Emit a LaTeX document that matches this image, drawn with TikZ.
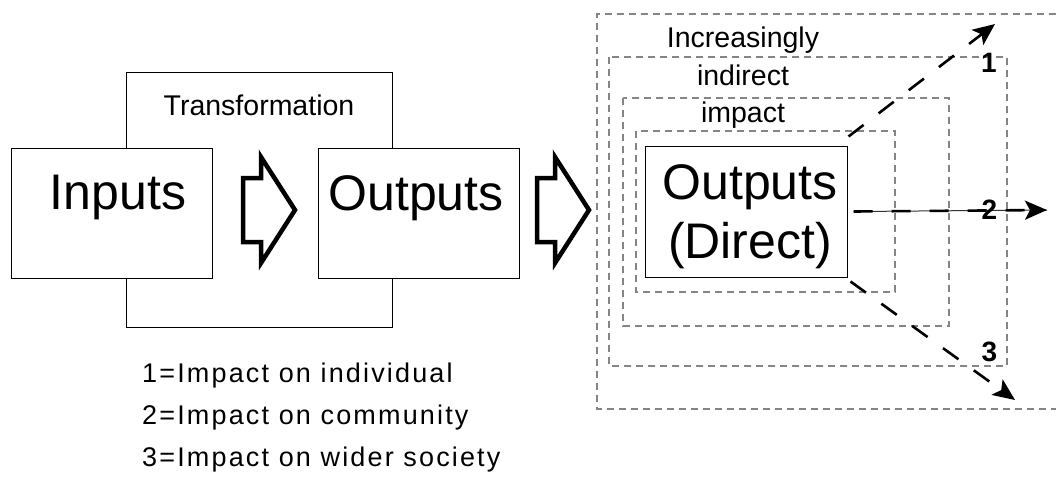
\documentclass[tikz,border=0pt]{standalone}
\usepackage{fontspec}
\setmainfont{Liberation Sans}
\newfontfamily\legendfont[LetterSpace=8]{Liberation Sans}
\usetikzlibrary{arrows.meta}
\tikzset{
  solidbox/.style={draw=black, line width=1pt, fill=none, inner sep=0pt},
  dbox/.style={draw=black!48, line width=1.2pt, dash pattern=on 7pt off 5pt},
  blockarrow/.style={draw=black, line width=4.5pt, miter limit=10, line join=miter},
  bigtext/.style={font=\fontsize{50}{60}\selectfont, inner sep=0pt, anchor=base},
  midtext/.style={font=\fontsize{28.5}{34}\selectfont, inner sep=0pt, anchor=base},
  legtext/.style={font=\legendfont\fontsize{27}{32}\selectfont, inner sep=0pt, anchor=base west},
  numtext/.style={font=\bfseries\fontsize{28}{32}\selectfont, inner sep=0pt, anchor=base},
  impact/.style={line width=2.6pt, dash pattern=on 19pt off 19pt, -{Stealth[length=22pt, width=19pt, inset=5pt]}}
}
\begin{document}
\begin{tikzpicture}[x=1pt, y=-1pt]
\useasboundingbox (0,0) rectangle (1056,483);
% transformation frame
\node[solidbox, minimum width=266pt, minimum height=255pt] (trans) at (259,199.5) {};
\node[solidbox, fill=white, minimum width=201pt, minimum height=130pt] (in) at (111.5,213) {};
\node[solidbox, fill=white, minimum width=201pt, minimum height=130pt] (out) at (418.5,213) {};
\node[midtext] (transtxt) at (259,115) {Transformation};
\node[bigtext] (intxt) at (118,209) {Inputs};
\node[bigtext] (outtxt) at (416,210) {Outputs};
% block arrows
\draw[blockarrow] (243,178) -- (261,178) -- (261,157) -- (295,210) -- (261,263) -- (261,242) -- (243,242) -- cycle;
\draw[blockarrow] (537,178) -- (555,178) -- (555,157) -- (589,210) -- (555,263) -- (555,242) -- (537,242) -- cycle;
% nested dashed frames
\draw[dbox] (1056,14) -- (597,14) -- (597,409) -- (1056,409);
\draw[dbox] (609,57) rectangle (1007,366);
\draw[dbox] (623,98) rectangle (949,326);
\draw[dbox] (636,131) rectangle (895,292);
\node[midtext] (t1) at (743,47) {Increasingly};
\node[midtext] (t2) at (743,85) {indirect};
\node[midtext] (t3) at (743,122) {impact};
% direct outputs
\node[solidbox, fill=white, minimum width=202pt, minimum height=131pt] (od) at (746,211.5) {};
\node[bigtext] (odt1) at (750,199) {Outputs};
\node[bigtext] (odt2) at (750,258) {(Direct)};
% impact arrows
\coordinate (e1) at (995,24);
\coordinate (e2) at (1047,210);
\coordinate (e3) at (1015,400);
\draw[impact] ([shift={(1,-9)}]od.north east) -- (e1);
\draw[line width=1pt, black!80] ([xshift=6]od.east) -- (e2);
\draw[impact] ([xshift=6]od.east) -- (e2);
\draw[impact] ([shift={(3,4)}]od.south east) -- (e3);
\node[numtext] (n1) at (989,72) {1};
\node[numtext] (n2) at (989.5,219.5) {2};
\node[numtext] (n3) at (989.5,361) {3};
% legend
\node[legtext] (l1) at (142,382) {1=Impact on individual};
\node[legtext] (l2) at (142,424) {2=Impact on community};
\node[legtext] (l3) at (142,466.5) {3=Impact on wider society};
\end{tikzpicture}
\end{document}
